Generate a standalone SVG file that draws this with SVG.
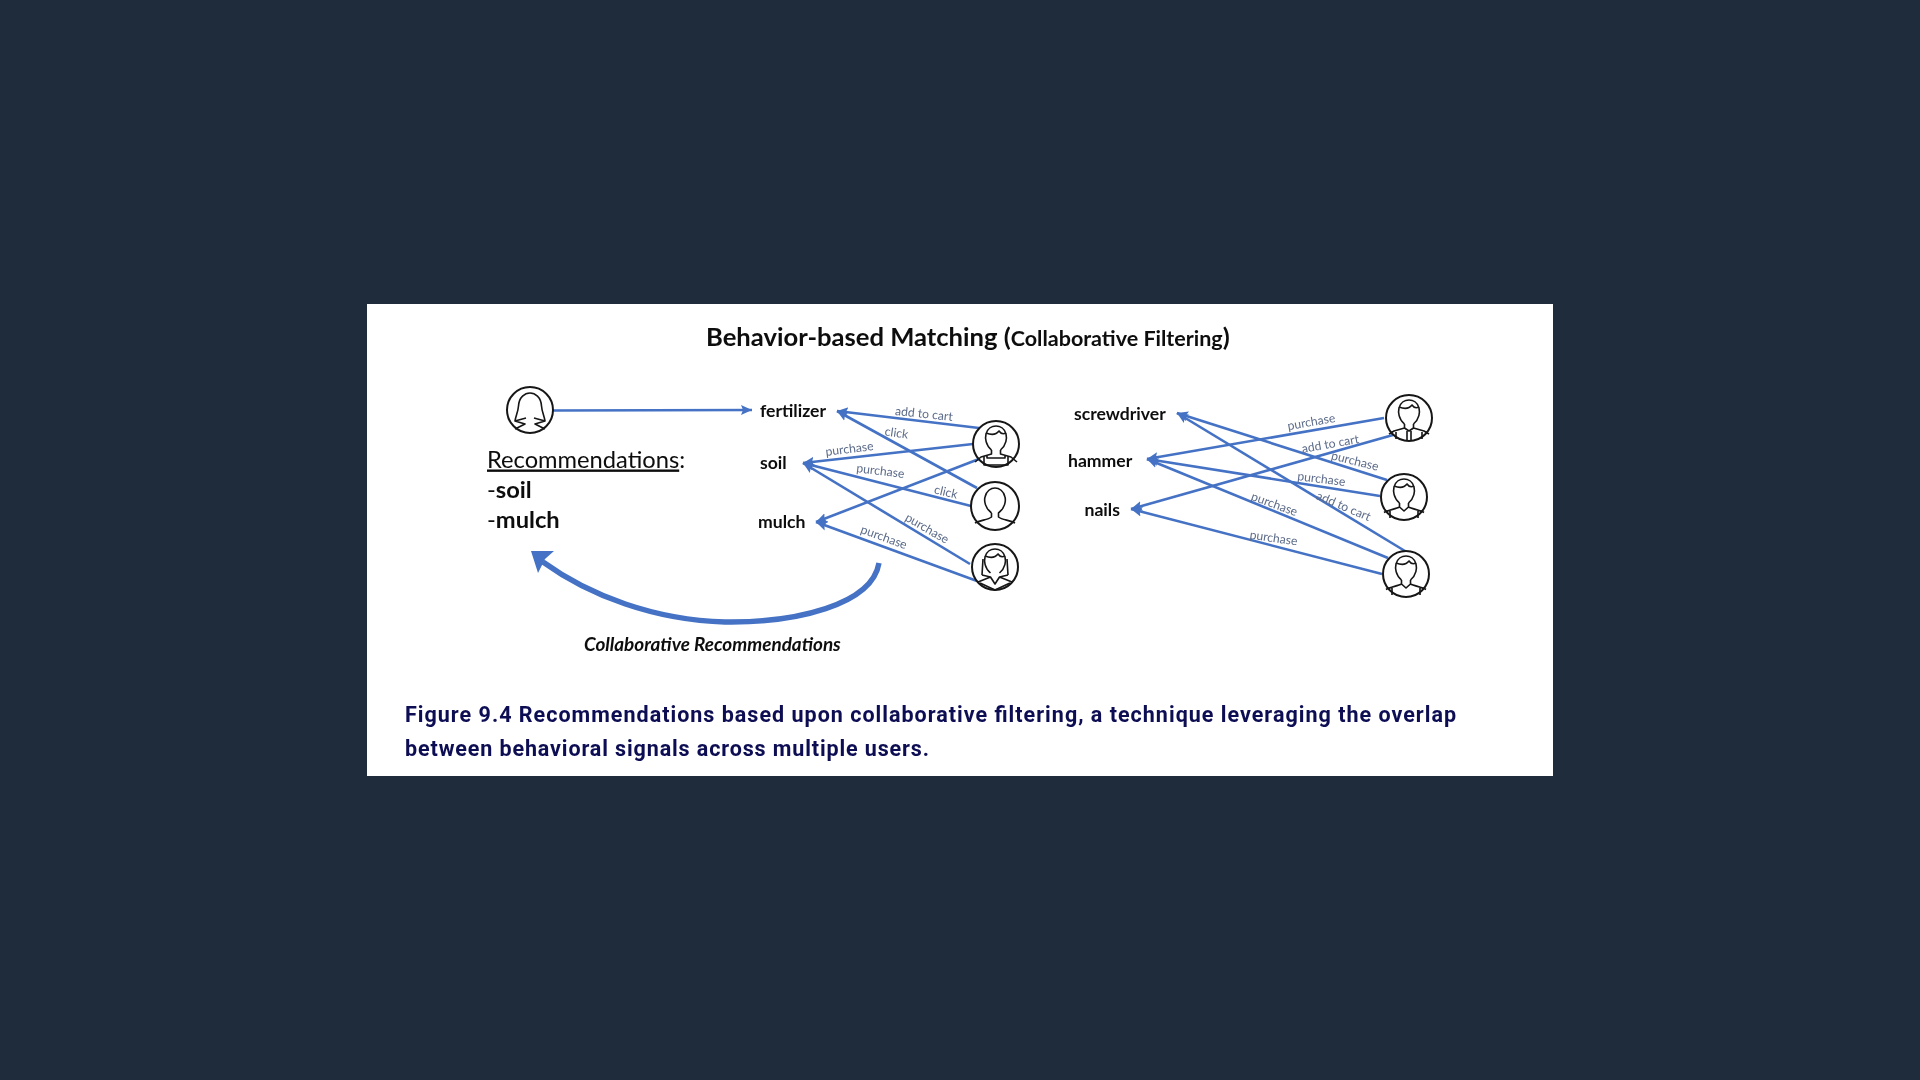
<svg xmlns="http://www.w3.org/2000/svg" width="1920" height="1080" viewBox="0 0 1920 1080">
<style>
.lat{font-family:"Lato","Open Sans","Liberation Sans",sans-serif}
.item{font-family:"Lato","Open Sans","Liberation Sans",sans-serif;font-weight:700;font-size:17.6px;fill:#0c0c0c}
.lb{font-family:"Lato","Open Sans","Liberation Sans",sans-serif;font-size:12.2px;fill:#5d6c8a;text-anchor:middle}
.cap{font-family:Roboto,"Liberation Sans",Arial,sans-serif;font-weight:700;font-size:21.5px;fill:#0b0b52}
.ln{fill:none;stroke:#4472c4;stroke-width:2.6;marker-end:url(#ah)}
.ic{fill:#fff;stroke:#151515;stroke-width:2}
.ds{fill:none;stroke:#151515;stroke-width:1.6;stroke-linejoin:round}
</style>
<defs>
<filter id="soft" x="0" y="0" width="1" height="1"><feGaussianBlur stdDeviation="0.55"/></filter>
<marker id="ah" markerUnits="userSpaceOnUse" markerWidth="12" markerHeight="12" refX="11" refY="5.500" orient="auto"><path d="M0,0.5 L11,5.500 L0,10.500 L2,5.500z" fill="#4472c4"/></marker>
<g id="head"><path class="ds" d="M-4.500,6 C-10.500,1 -11,-6 -10,-10 C-8.500,-15.500 -4,-18 0,-18 C4,-18 8.500,-15.500 10,-10 C11,-6 10.500,1 4.500,6"/><path class="ds" d="M-10,-11 C-5,-9 0,-9 3,-13 C5,-10 8,-10 10,-11"/></g>
<path id="shoulders" class="ds" d="M-4.500,6 L-4.500,10 C-8,12 -16,13 -20,15.500 M4.500,6 L4.500,10 C8,12 16,13 20,15.500 M-4.500,10 L0,14 L4.500,10 M-14,13 L-14,21 M14,13 L14,21"/>
</defs>
<rect width="1920" height="1080" fill="#1f2c3c"/>
<rect x="367" y="304" width="1186" height="472" fill="#fff"/>
<g filter="url(#soft)">
<text class="lat" x="706" y="345.500" font-size="25.600" font-weight="700" fill="#0c0c0c">Behavior-based Matching (<tspan font-size="21.500">Collaborative Filtering</tspan>)</text>

<g id="connectors">
<path class="ln" d="M553,410.500 L752,410"/>
<path class="ln" d="M979,428 L837,411"/>
<path class="ln" d="M977,488 L837,411"/>
<path class="ln" d="M973,444 L803,463"/>
<path class="ln" d="M971,506 L803,463"/>
<path class="ln" d="M970,564 L803,463"/>
<path class="ln" d="M979,459 L816,522"/>
<path class="ln" d="M977,581 L816,522"/>
<path class="ln" d="M1384,418 L1147,459"/>
<path class="ln" d="M1393,435 L1131,509"/>
<path class="ln" d="M1387,480 L1177,413"/>
<path class="ln" d="M1380,496 L1147,459"/>
<path class="ln" d="M1405,551 L1177,413"/>
<path class="ln" d="M1388,558 L1147,459"/>
<path class="ln" d="M1382,574 L1131,509"/>
<path id="curve" fill="none" stroke="#4472c4" stroke-width="5.400" d="M879,563 C872,605 795,623 725,622 C655,620 590,596 543,562"/>
<path fill="#4472c4" d="M531,551 L554,551 L545,559 L538,573z"/>
</g>

<g id="edge-labels">
<text class="lb" transform="translate(923.500,418) rotate(6)">add to cart</text>
<text class="lb" transform="translate(896,437) rotate(8)">click</text>
<text class="lb" transform="translate(850,453) rotate(-7)">purchase</text>
<text class="lb" transform="translate(880,475) rotate(7)">purchase</text>
<text class="lb" transform="translate(945,496) rotate(13)">click</text>
<text class="lb" transform="translate(925,532) rotate(30)">purchase</text>
<text class="lb" transform="translate(882.500,541) rotate(20)">purchase</text>
<text class="lb" transform="translate(1312,426) rotate(-10)">purchase</text>
<text class="lb" transform="translate(1331,448) rotate(-10)">add to cart</text>
<text class="lb" transform="translate(1354,465) rotate(14)">purchase</text>
<text class="lb" transform="translate(1321,483) rotate(7)">purchase</text>
<text class="lb" transform="translate(1342,510) rotate(23)">add to cart</text>
<text class="lb" transform="translate(1273,508) rotate(20)">purchase</text>
<text class="lb" transform="translate(1273,542) rotate(8)">purchase</text>
</g>

<g id="items">
<text id="fertilizer" class="item" x="760" y="417">fertilizer</text>
<text id="soil" class="item" x="760" y="469">soil</text>
<text id="mulch" class="item" x="758" y="528">mulch</text>
<text id="screwdriver" class="item" x="1074" y="420">screwdriver</text>
<text id="hammer" class="item" x="1068" y="466.500">hammer</text>
<text id="nails" class="item" x="1084.500" y="515.500">nails</text>
</g>

<g id="target-user" transform="translate(530,410)"><circle class="ic" r="23"/><path class="ds" d="M-4,8 L-15,11 C-14,5 -12,2 -11.500,-4 C-11,-13 -5,-17 0,-17 C5,-17 11,-13 11.500,-4 C12,2 14,5 15,11 L4,8 M-15,11 L-5,14 L-15,19 M15,11 L5,14 L15,19"/></g>

<g id="user-a" transform="translate(996,444)"><circle class="ic" r="23"/><use href="#head"/><path class="ds" d="M-4.500,6 L-4.500,10 L-15,13 L-21,18 M4.500,6 L4.500,10 L15,13 L21,18 M-12,12 L-12,21 L12,21 L12,12 M-9,11 L-9,14 L9,14 L9,11"/></g>
<g id="user-b" transform="translate(995,506)"><circle class="ic" r="24"/><path class="ds" d="M-3.500,7 C-10,2 -11,-5 -10,-9 C-9,-15 -4,-18 0,-18 C4,-18 9,-15 10,-9 C11,-5 10,2 3.500,7 L3.500,11 C7,14 15,14 20,17 M-3.500,7 L-3.500,11 C-7,14 -15,14 -20,17"/></g>
<g id="user-c" transform="translate(995,567)"><circle class="ic" r="23"/><use href="#head"/><path class="ds" d="M-12,-8 L-13,8 M12,-8 L13,8 M-13,8 L-4.500,10 L-17,15 M13,8 L4.500,10 L17,15 M-4.500,10 L0,17 L4.500,10 M-15,16 L0,23 L15,16"/></g>

<g id="user-d" transform="translate(1409,418)"><circle class="ic" r="23"/><use href="#head"/><path class="ds" d="M-4.500,6 L-4.500,10 L-15,13 L-20,16 M4.500,6 L4.500,10 L15,13 L20,16 M-4.500,10 L0,13 L4.500,10 M-2,13 L-2,22 M2,13 L2,22 M-13,14 L-13,21 M13,14 L13,21"/></g>
<g id="user-e" transform="translate(1404,497)"><circle class="ic" r="23"/><use href="#head"/><use href="#shoulders"/></g>
<g id="user-f" transform="translate(1406,574)"><circle class="ic" r="23"/><use href="#head"/><use href="#shoulders"/></g>

<g id="recommendations">
<text class="lat" x="487" y="467.500" font-size="23.700" fill="#0c0c0c"><tspan text-decoration="underline">Recommendations</tspan>:</text>
<text class="lat" x="487" y="497.500" font-size="23.700" fill="#0c0c0c">-<tspan font-weight="700">soil</tspan></text>
<text class="lat" x="487" y="528" font-size="23.700" fill="#0c0c0c">-<tspan font-weight="700">mulch</tspan></text>
</g>

<text id="curve-label" class="lat" x="584" y="650.500" font-size="18.900" font-weight="700" font-style="italic" fill="#0c0c0c">Collaborative Recommendations</text>

<text class="cap" x="405" y="721.500" textLength="1051" lengthAdjust="spacing">Figure 9.4 Recommendations based upon collaborative filtering, a technique leveraging the overlap</text>
<text class="cap" x="405" y="755.500" textLength="524" lengthAdjust="spacing">between behavioral signals across multiple users.</text>
</g>
</svg>
